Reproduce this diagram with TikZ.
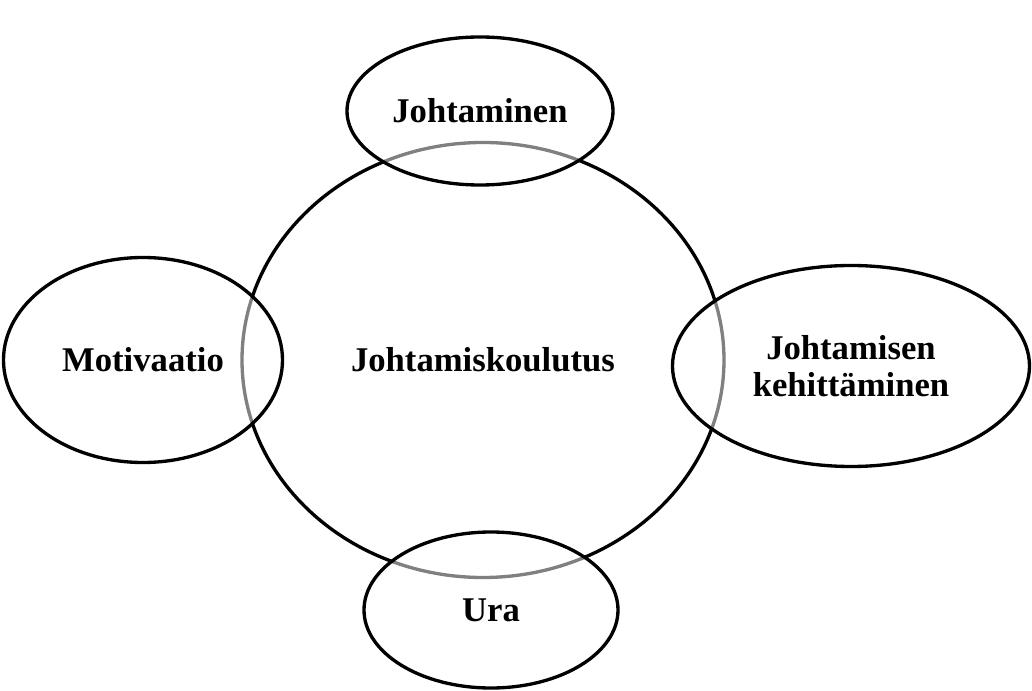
\documentclass[tikz,border=0pt]{standalone}
\usepackage{fontspec}
\setmainfont{Liberation Serif}
\usetikzlibrary{shapes.geometric}
\begin{document}
\begin{tikzpicture}[x=0.75pt,y=-0.75pt,
  lbl/.style={font=\bfseries\fontsize{26pt}{27.5pt}\selectfont, align=center},
  bub/.style={ellipse, draw=black, line width=2.5pt, inner sep=0pt, lbl},
  sat/.style={bub, fill=white, fill opacity=0.5, text opacity=1, draw opacity=1}]
\useasboundingbox (0,0) rectangle (1032,691);
\node[bub, minimum width=482*0.75pt, minimum height=435*0.75pt] (c) at (483,360) {Johtamiskoulutus};
\node[sat, minimum width=266*0.75pt, minimum height=148*0.75pt] (t) at (480,111) {Johtaminen};
\node[sat, minimum width=279*0.75pt, minimum height=205*0.75pt] (l) at (143,360) {Motivaatio};
\node[sat, minimum width=357*0.75pt, minimum height=201*0.75pt] (r) at (851,366) {Johtamisen\\kehittäminen};
\node[sat, minimum width=254*0.75pt, minimum height=156*0.75pt] (b) at (491,610) {Ura};
\end{tikzpicture}
\end{document}
